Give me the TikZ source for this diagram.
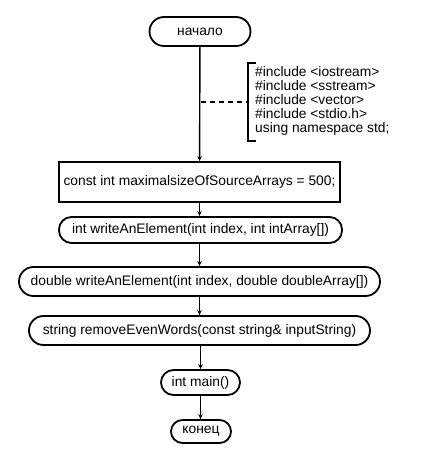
\documentclass[tikz,border=0pt]{standalone}
\usepackage{fontspec}
\setmainfont{Liberation Sans}
\usetikzlibrary{arrows.meta}
\begin{document}
\begin{tikzpicture}[x=1pt,y=-1pt,
  term/.style={draw,line width=1.8pt,rounded corners=12.5pt,minimum height=#1,inner sep=0pt,font=\fontsize{13.8}{15}\selectfont},
  term/.default=26pt,
  proc/.style={draw,line width=1.8pt,inner sep=0pt,font=\fontsize{13.8}{15}\selectfont},
  flow/.style={line width=1.4pt,-{Stealth[length=5pt,width=4.5pt]}},
  note/.style={align=left,inner sep=0pt,font=\fontsize{13.8}{14}\selectfont}]
\useasboundingbox (0,0) rectangle (422,473);
\node[term=29pt,minimum width=101pt,rounded corners=14.5pt] (start) at (200,31.5) {начало};
\node[proc,minimum width=281pt,minimum height=40pt] (const) at (199.5,182) {const int maximalsizeOfSourceArrays = 500;};
\node[term,minimum width=283pt] (f1) at (200.5,230) {int writeAnElement(int index, int intArray[])};
\node[term=29pt,minimum width=361pt,rounded corners=14.5pt] (f2) at (199.5,281.5) {double writeAnElement(int index, double doubleArray[])};
\node[term=29pt,minimum width=341pt,rounded corners=14.5pt] (f3) at (199.5,330.5) {string removeEvenWords(const string\& inputString)};
\node[term=25pt,minimum width=79pt] (main) at (200.5,382.5) {int main()};
\node[term=23pt,minimum width=60pt,rounded corners=11.5pt] (end) at (201,431.5) {конец};
\node[note,anchor=north west] (comment) at (255,66) {\#include <iostream>\\\#include <sstream>\\\#include <vector>\\\#include <stdio.h>\\using namespace std;};
\coordinate (bt) at (248,63);
\coordinate (bb) at (248,141);
\draw[line width=1.1pt] ([xshift=8pt]bt) -- (bt) -- (bb) -- ([xshift=8pt]bb);
\coordinate (tap) at (201,102);
\draw[line width=1.1pt,dash pattern=on 5pt off 4pt] (tap) -- (248,102);
\draw[flow] (start) -- (const);
\draw[flow] (const) -- (f1.north -| const);
\draw[flow] (f1.south -| const) -- (f2);
\draw[flow] (f2) -- (f3);
\draw[flow] (f3.south -| main) -- (main);
\draw[flow] (main) -- (end.north -| main);
\end{tikzpicture}
\end{document}
